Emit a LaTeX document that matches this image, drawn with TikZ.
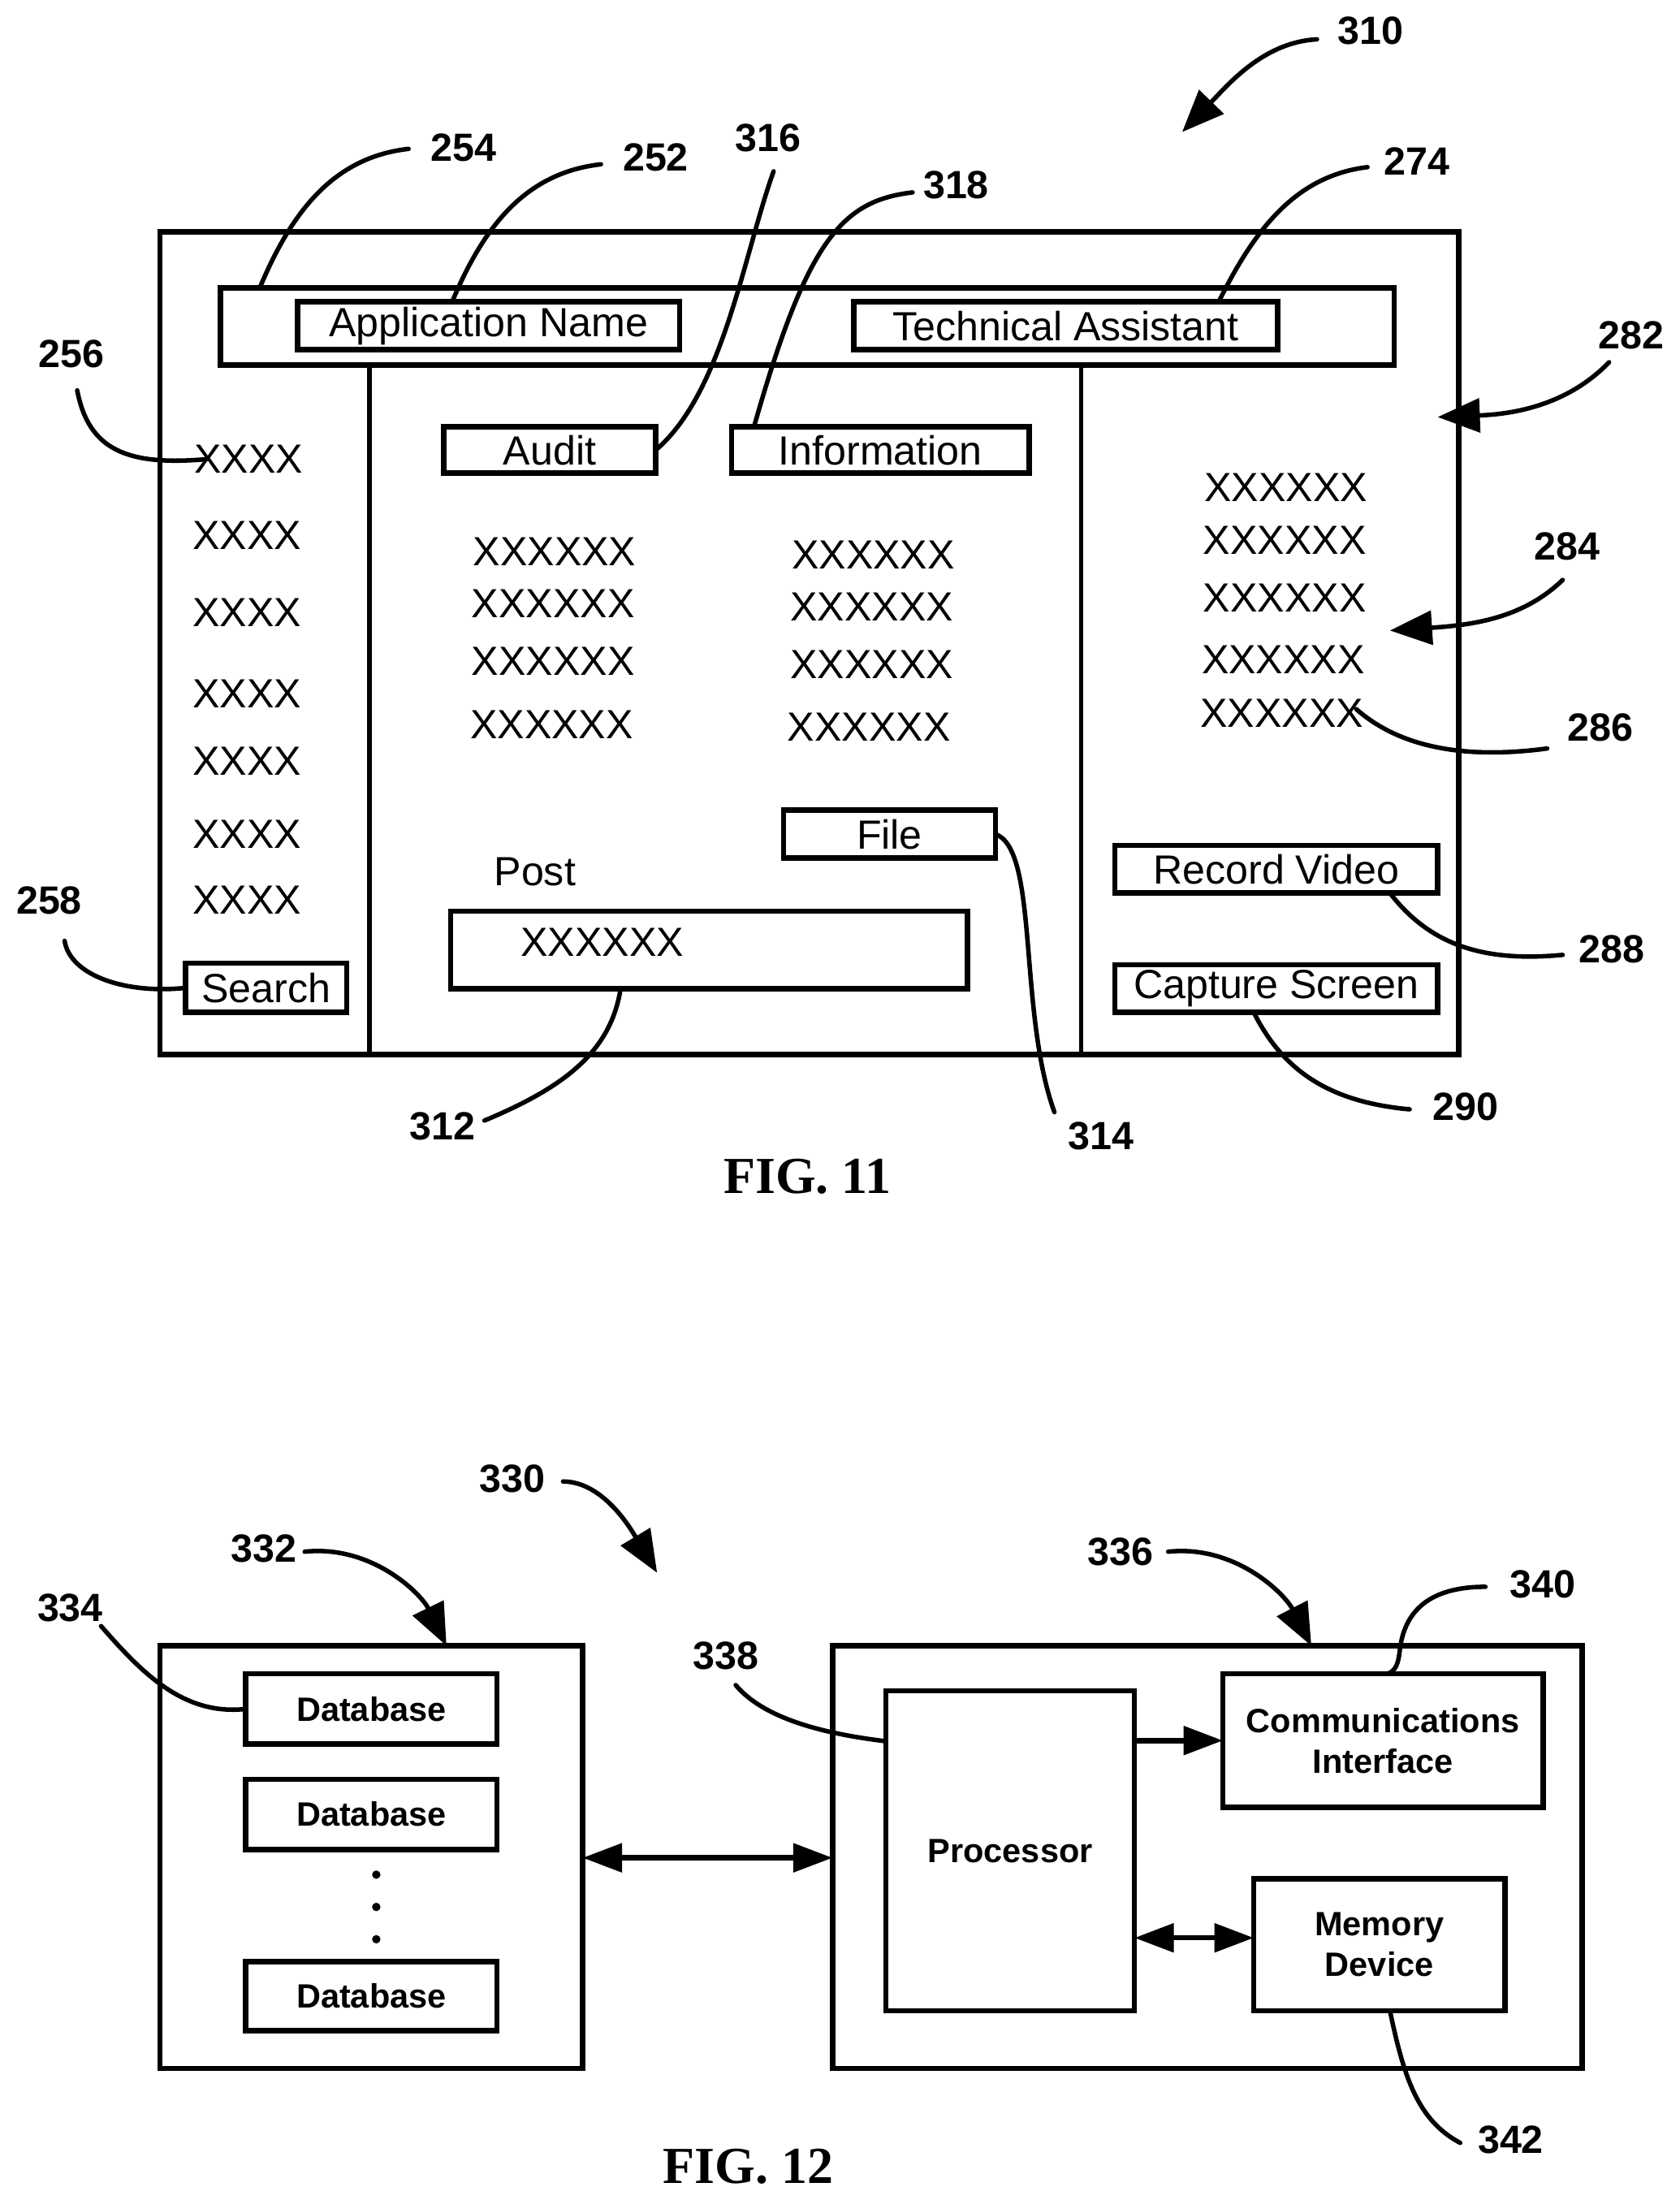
\documentclass[tikz,border=0pt]{standalone}
\usepackage{fontspec}
\setmainfont{Liberation Sans}
\newfontfamily\timesf{Liberation Serif}
\usetikzlibrary{arrows.meta}
\tikzset{
  thinbox/.style={draw=black,line width=3.8pt,inner sep=0pt,outer sep=0pt,align=center,font=\fontsize{29}{35}\selectfont},
  boldbox/.style={thinbox,font=\fontsize{24}{29}\selectfont\bfseries},
  txt/.style={inner sep=0pt,font=\fontsize{29}{35}\selectfont},
  lab/.style={inner sep=0pt,font=\fontsize{28}{34}\selectfont\bfseries},
  figlab/.style={inner sep=0pt,font=\fontsize{37}{44}\selectfont\bfseries\timesf},
  leader/.style={draw=black,line width=3.2pt,line cap=round},
  bigarrow/.style={leader,-{Triangle[length=30pt,width=24pt]}},
  flow/.style={draw=black,line width=3.8pt,-{Triangle[length=28pt,width=20pt]}},
  flowboth/.style={draw=black,line width=3.8pt,{Triangle[length=28pt,width=20pt]}-{Triangle[length=28pt,width=20pt]}},
  rule/.style={draw=black,line width=3.2pt},
  dotmark/.style={circle,fill=black,inner sep=0pt,minimum size=6pt}
}
\newcommand{\bxnode}[7][]{%
  \pgfmathsetmacro{\cxv}{(#3+#5)/2}\pgfmathsetmacro{\cyv}{(#4+#6)/2}%
  \pgfmathsetmacro{\wv}{#5-#3}\pgfmathsetmacro{\hv}{#6-#4}%
  \node[#1,minimum width=\wv pt,minimum height=\hv pt] (#2) at (\cxv,\cyv) {#7};}
\begin{document}
\begin{tikzpicture}[x=1pt,y=-1pt]
\useasboundingbox (0,0) rectangle (1196,1566.7);
% ---------- FIG 11 ----------
\bxnode[thinbox]{screen}{114}{165}{1039}{751}{}
\bxnode[thinbox]{header}{157}{205}{993}{260}{}
\bxnode[thinbox]{appname}{212}{215}{484}{249}{Application Name}
\bxnode[thinbox]{tech}{608}{215}{910}{249}{Technical Assistant}
\bxnode[thinbox]{audit}{316}{304}{467}{337}{Audit}
\bxnode[thinbox]{info}{521}{304}{733}{337}{Information}
\bxnode[thinbox]{file}{558}{577}{709}{611}{File}
\bxnode[thinbox]{record}{794}{602}{1024}{636}{Record Video}
\bxnode[thinbox]{capture}{794}{687}{1024}{721}{Capture Screen}
\bxnode[thinbox]{search}{132}{686}{247}{721}{Search}
\bxnode[thinbox]{postbox}{321}{649}{689}{704}{}
\draw[rule] (263,0 |- header.south) -- (263,0 |- screen.south);
\draw[rule] (770,0 |- header.south) -- (770,0 |- screen.south);
\node[txt] (p0) at (381,621) {Post};
\node[txt] (p1) at (429,671) {XXXXXX};
\node[txt] (a1) at (177,327) {XXXX};
\node[txt] (a2) at (176,381) {XXXX};
\node[txt] (a3) at (176,436) {XXXX};
\node[txt] (a4) at (176,494) {XXXX};
\node[txt] (a5) at (176,542) {XXXX};
\node[txt] (a6) at (176,594) {XXXX};
\node[txt] (a7) at (176,641) {XXXX};
\node[txt] (b1) at (395,393) {XXXXXX};
\node[txt] (b2) at (394,430) {XXXXXX};
\node[txt] (b3) at (394,471) {XXXXXX};
\node[txt] (b4) at (393,516) {XXXXXX};
\node[txt] (c1) at (622,395) {XXXXXX};
\node[txt] (c2) at (621,432) {XXXXXX};
\node[txt] (c3) at (621,473) {XXXXXX};
\node[txt] (c4) at (619,518) {XXXXXX};
\node[txt] (d1) at (916,347) {XXXXXX};
\node[txt] (d2) at (915,385) {XXXXXX};
\node[txt] (d3) at (915,426) {XXXXXX};
\node[txt] (d4) at (914,470) {XXXXXX};
\node[txt] (d5) at (913,508) {XXXXXX};
\node[lab] (l310) at (976,22) {310};
\node[lab] (l254) at (330,105) {254};
\node[lab] (l252) at (467,112) {252};
\node[lab] (l316) at (547,98) {316};
\node[lab] (l318) at (681,132) {318};
\node[lab] (l274) at (1009,115) {274};
\node[lab] (l282) at (1162,239) {282};
\node[lab] (l256) at (51,252) {256};
\node[lab] (l284) at (1116,389) {284};
\node[lab] (l286) at (1140,518) {286};
\node[lab] (l258) at (35,641) {258};
\node[lab] (l288) at (1148,676) {288};
\node[lab] (l290) at (1044,788) {290};
\node[lab] (l312) at (315,802) {312};
\node[lab] (l314) at (784,809) {314};
\node[figlab] (fig11) at (575,838) {FIG. 11};
\coordinate (f310) at (938,28); \coordinate (t310) at (842,94);
\coordinate (f254) at (291,106);
\coordinate (f252) at (428,117);
\coordinate (f316) at (551,122);
\coordinate (f318) at (650,137);
\coordinate (f274) at (974,119);
\coordinate (f282) at (1146,258); \coordinate (t282) at (1024,297);
\coordinate (f256) at (55,278); \coordinate (t256) at (147,327);
\coordinate (f284) at (1113,413); \coordinate (t284) at (990,449);
\coordinate (f286) at (1102,533); \coordinate (t286) at (966,505);
\coordinate (f258) at (46,670);
\coordinate (f288) at (1113,680);
\coordinate (f290) at (1004,790);
\coordinate (f312) at (345,798);
\coordinate (f314) at (751,792);
\draw[bigarrow] (f310) .. controls (900,30) and (875,60) .. (t310);
\draw[leader] (f254) .. controls (238,112) and (208,150) .. (185,0 |- header.north);
\draw[leader] (f252) .. controls (375,123) and (345,160) .. (322,0 |- appname.north);
\draw[leader] (f316) .. controls (530,180) and (515,280) .. (audit.east);
\draw[leader] (f318) .. controls (600,143) and (575,170) .. (537,0 |- info.north);
\draw[leader] (f274) .. controls (925,125) and (895,160) .. (868,0 |- tech.north);
\draw[bigarrow] (f282) .. controls (1115,290) and (1075,295) .. (t282);
\draw[leader] (f256) .. controls (63,320) and (90,332) .. (t256);
\draw[bigarrow] (f284) .. controls (1085,440) and (1050,445) .. (t284);
\draw[leader] (f286) .. controls (1050,540) and (1000,535) .. (t286);
\draw[leader] (f258) .. controls (50,695) and (90,708) .. (search.west);
\draw[leader] (f288) .. controls (1060,685) and (1020,675) .. (990,0 |- record.south);
\draw[leader] (f290) .. controls (950,785) and (915,765) .. (893,0 |- capture.south);
\draw[leader] (f312) .. controls (400,775) and (435,750) .. (442,0 |- postbox.south);
\draw[leader] (f314) .. controls (725,720) and (740,605) .. (file.east);
% ---------- FIG 12 ----------
\bxnode[thinbox]{dbgroup}{114}{1172}{415}{1473}{}
\bxnode[boldbox]{db1}{175}{1192}{354}{1242}{Database}
\bxnode[boldbox]{db2}{175}{1267}{354}{1317}{Database}
\bxnode[boldbox]{db3}{175}{1397}{354}{1446}{Database}
\node[dotmark] (dot1) at (268,1335) {};
\node[dotmark] (dot2) at (268,1358) {};
\node[dotmark] (dot3) at (268,1381) {};
\bxnode[thinbox]{device}{593}{1172}{1127}{1473}{}
\bxnode[boldbox]{proc}{631}{1204}{808}{1432}{Processor}
\bxnode[boldbox]{comm}{871}{1192}{1099}{1287}{Communications\\Interface}
\bxnode[boldbox]{mem}{893}{1338}{1072}{1432}{Memory\\Device}
\draw[flowboth] (dbgroup.east |- 0,1323) -- (device.west |- 0,1323);
\draw[flow] (proc.east |- comm.west) -- (comm.west);
\draw[flowboth] (proc.east |- 0,1380) -- (mem.west |- 0,1380);
\node[lab] (l330) at (365,1053) {330};
\node[lab] (l332) at (188,1103) {332};
\node[lab] (l334) at (50,1145) {334};
\node[lab] (l336) at (798,1105) {336};
\node[lab] (l338) at (517,1179) {338};
\node[lab] (l340) at (1099,1128) {340};
\node[lab] (l342) at (1076,1524) {342};
\node[figlab] (fig12) at (533,1543) {FIG. 12};
\coordinate (f330) at (401,1055); \coordinate (t330) at (468,1120);
\coordinate (f332) at (217,1105);
\coordinate (f334) at (72,1158);
\coordinate (f336) at (832,1105);
\coordinate (f338) at (524,1200);
\coordinate (f340) at (1058,1130);
\coordinate (f342) at (1040,1526);
\draw[bigarrow] (f330) .. controls (430,1055) and (450,1090) .. (t330);
\draw[bigarrow] (f332) .. controls (265,1100) and (300,1135) .. (318,0 |- dbgroup.north);
\draw[leader] (f334) .. controls (100,1190) and (130,1222) .. (db1.west);
\draw[bigarrow] (f336) .. controls (880,1100) and (915,1135) .. (934,0 |- device.north);
\draw[leader] (f338) .. controls (545,1225) and (590,1235) .. (proc.west |- 0,1240);
\draw[leader] (f340) .. controls (1015,1130) and (1000,1150) .. (997,1175) .. controls (996,1185) and (994,1190) .. (988,0 |- comm.north);
\draw[leader] (f342) .. controls (1010,1510) and (1000,1480) .. (990,0 |- mem.south);
\end{tikzpicture}
\end{document}
